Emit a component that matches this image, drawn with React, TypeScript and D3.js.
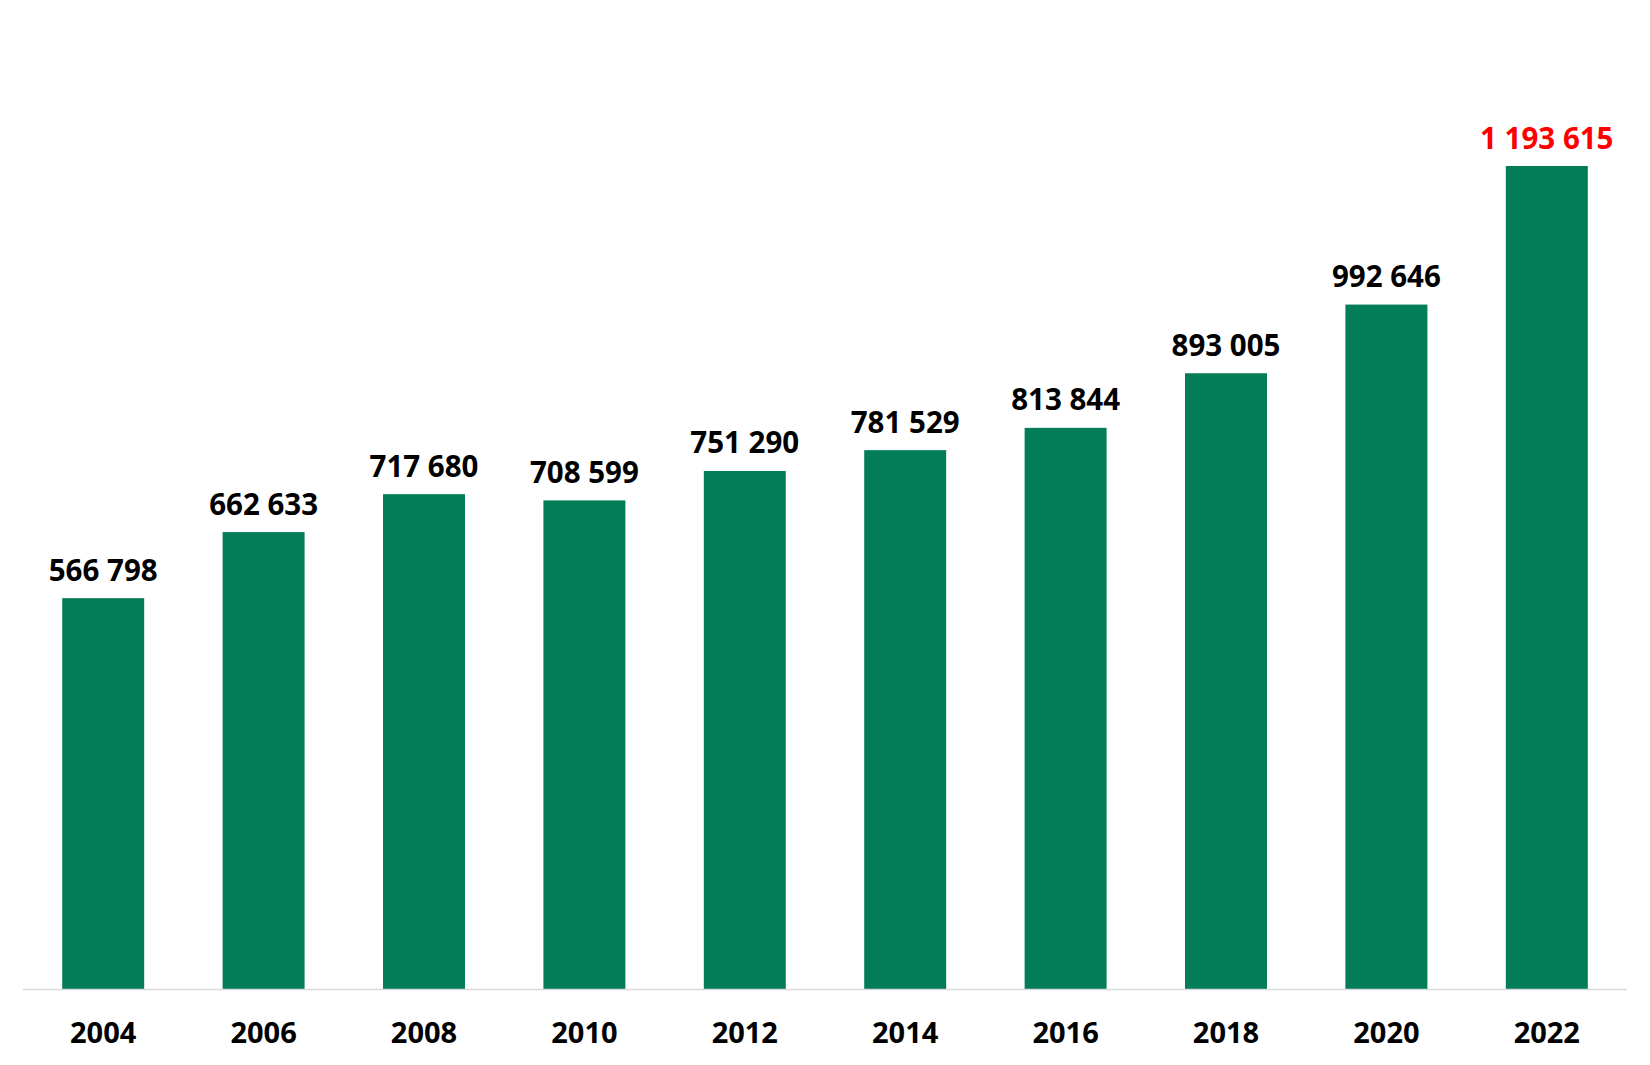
import React from "react";
import * as d3 from "d3";

const years = ["2004", "2006", "2008", "2010", "2012", "2014", "2016", "2018", "2020", "2022"];
const values = [566798, 662633, 717680, 708599, 751290, 781529, 813844, 893005, 992646, 1193615];
const highlightYear = "2022";

const W = 1650;
const H = 1065;
const baseY = 989;
const topY = 166;

const fmt = (v: number) => d3.format(",")(v).replace(/,/g, " ");

export default function App() {
  const x = d3.scaleBand<string>().domain(years).range([23, 1627]).paddingInner(0.489).paddingOuter(0.2445);
  const y = d3.scaleLinear().domain([0, d3.max(values) as number]).range([baseY, topY]);
  const font = "'Open Sans', 'Noto Sans', sans-serif";
  return (
    <svg width={W} height={H} style={{ position: "absolute", left: 0, top: 0, background: "#fff" }}>
      {years.map((yr, i) => {
        const bx = x(yr) as number;
        const bw = x.bandwidth();
        const v = values[i];
        return (
          <g key={yr}>
            <rect x={bx} y={y(v)} width={bw} height={baseY - y(v)} fill="#037C58" />
            <text
              x={bx + bw / 2}
              y={y(v) - 17.5}
              textAnchor="middle"
              fontFamily={font}
              fontWeight={700}
              fontSize={29.5}
              fill={yr === highlightYear ? "#FF0000" : "#000"}
            >
              {fmt(v)}
            </text>
            <text
              x={bx + bw / 2}
              y={1043}
              textAnchor="middle"
              fontFamily={font}
              fontWeight={700}
              fontSize={29}
              fill="#000"
            >
              {yr}
            </text>
          </g>
        );
      })}
      <line x1={23} x2={1627} y1={baseY + 0.5} y2={baseY + 0.5} stroke="#D9D9D9" strokeWidth={1.5} />
    </svg>
  );
}
